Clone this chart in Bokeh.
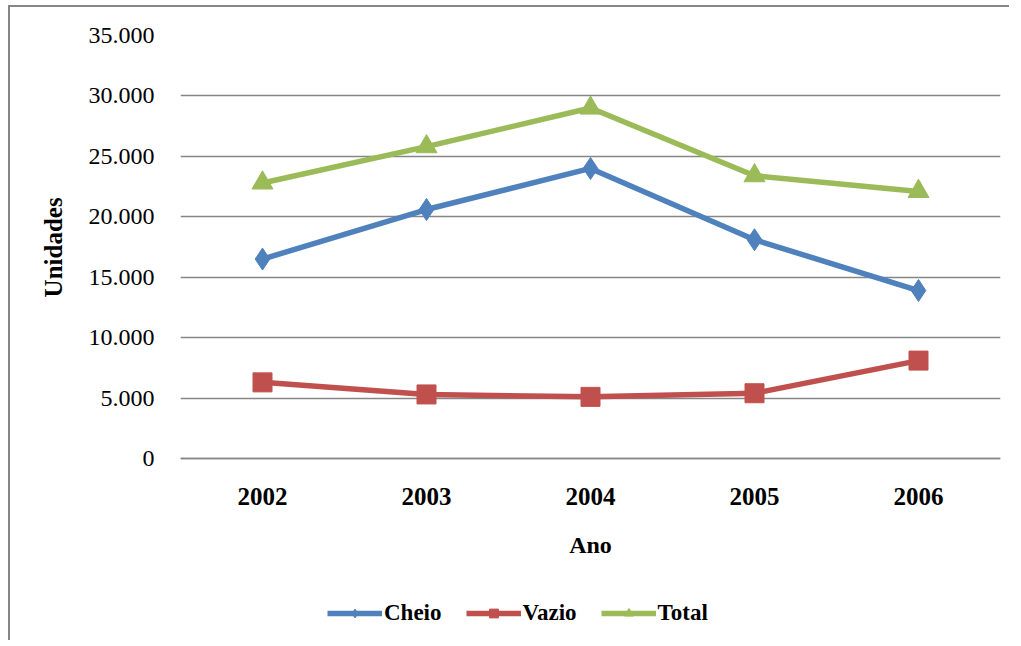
from bokeh.plotting import figure
from bokeh.models import FixedTicker, Legend, LegendItem
from bokeh.embed import file_html
from bokeh.resources import INLINE

years = ["2002", "2003", "2004", "2005", "2006"]
cheio = [16500, 20600, 24000, 18100, 13900]
vazio = [6300, 5300, 5100, 5400, 8100]
total = [22800, 25800, 29000, 23400, 22100]
y_ticks = [0, 5000, 10000, 15000, 20000, 25000, 30000, 35000]
y_tick_labels = ["0", "5.000", "10.000", "15.000", "20.000", "25.000", "30.000", "35.000"]

FONT = "Liberation Serif"
BLUE, RED, GREEN = "#4F81BD", "#C0504D", "#9BBB59"
GRID = "#868686"

# layout: data area 423px tall for 0..35000, frame extended below to hold axis texts and legend
Y_MAX = 35000
DATA_PX = 423
FRAME_PX = 605
y_start = -Y_MAX * (FRAME_PX - DATA_PX) / DATA_PX

p = figure(x_range=years, y_range=(y_start, Y_MAX),
           frame_width=820, frame_height=FRAME_PX,
           min_border_left=170, min_border_top=28, min_border_right=9, min_border_bottom=0,
           output_backend="svg", toolbar_location=None,
           styles={"border-top": "2px solid #868686", "border-left": "2px solid #868686",
                   "margin-left": "8px", "margin-top": "5px"})
p.outline_line_color = None
p.background_fill_color = "white"
p.border_fill_color = "white"

# grid
p.xgrid.grid_line_color = None
p.ygrid.grid_line_color = GRID
p.ygrid.grid_line_width = 1.5
p.ygrid.ticker = FixedTicker(ticks=y_ticks)

# y axis
p.yaxis.ticker = FixedTicker(ticks=y_ticks)
p.yaxis.bounds = (0, Y_MAX)
p.yaxis.major_label_overrides = {t: l for t, l in zip(y_ticks, y_tick_labels)}
p.yaxis.axis_line_color = None
p.yaxis.major_tick_line_color = None
p.yaxis.minor_tick_line_color = None
p.yaxis.major_label_standoff = 20
p.yaxis.major_label_text_font = FONT
p.yaxis.major_label_text_font_size = "24px"
p.yaxis.major_label_text_color = "black"
# leading no-break spaces shift the centred label up to the data area's middle
p.yaxis.axis_label = "\u00a0" * 29 + "Unidades"
p.yaxis.axis_label_text_font = FONT
p.yaxis.axis_label_text_font_size = "25px"
p.yaxis.axis_label_text_font_style = "bold"
p.yaxis.axis_label_text_color = "black"
p.yaxis.axis_label_standoff = 19

# x axis, drawn at value 0
p.xaxis.fixed_location = 0
p.xaxis.axis_line_color = GRID
p.xaxis.axis_line_width = 1.5
p.xaxis.major_tick_line_color = None
p.xaxis.minor_tick_line_color = None
p.xaxis.major_label_standoff = 23
p.xaxis.major_label_text_font = FONT
p.xaxis.major_label_text_font_size = "25px"
p.xaxis.major_label_text_font_style = "bold"
p.xaxis.major_label_text_color = "black"
p.xaxis.axis_label = "Ano"
p.xaxis.axis_label_text_font = FONT
p.xaxis.axis_label_text_font_size = "24px"
p.xaxis.axis_label_text_font_style = "bold"
p.xaxis.axis_label_text_color = "black"
p.xaxis.axis_label_standoff = 24

lw = 5.5
l1 = p.line(years, cheio, line_color=BLUE, line_width=lw)
m1 = p.scatter(years, cheio, marker="diamond", size=22, fill_color=BLUE, line_color=BLUE)
l2 = p.line(years, vazio, line_color=RED, line_width=lw)
m2 = p.scatter(years, vazio, marker="square", size=19, fill_color=RED, line_color=RED)
l3 = p.line(years, total, line_color=GREEN, line_width=lw)
m3 = p.scatter(years, total, marker="triangle", size=21, fill_color=GREEN, line_color=GREEN)

legend = Legend(items=[LegendItem(label="Cheio", renderers=[l1, m1]),
                       LegendItem(label="Vazio", renderers=[l2, m2]),
                       LegendItem(label="Total", renderers=[l3, m3])],
                orientation="horizontal", location=(147, 14),
                border_line_color=None, background_fill_alpha=0,
                label_text_font=FONT, label_text_font_size="23px",
                label_text_font_style="bold", label_text_color="black",
                glyph_width=55, glyph_height=22, label_standoff=2, spacing=24,
                padding=0, margin=0)
p.add_layout(legend, "center")

open("out.html", "w").write(file_html(p, INLINE))
